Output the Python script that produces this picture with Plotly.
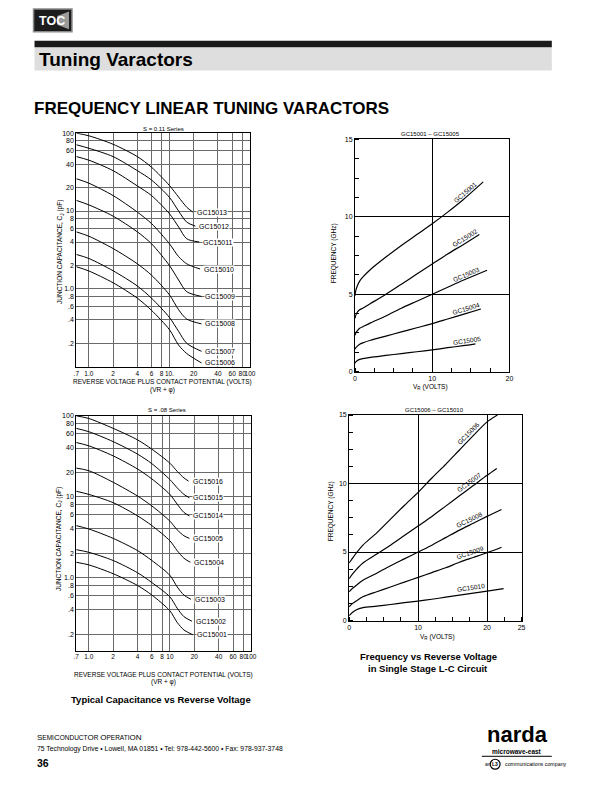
import numpy as np
import plotly.graph_objects as go

W, H = 612, 792
FONT = "Liberation Sans"

# ---------------- DATA ----------------
# Top-left: S = 0.11 series, capacitance (pF) vs reverse voltage + phi (V)
TL_NAMES = ["GC15013", "GC15012", "GC15011", "GC15010", "GC15009", "GC15008", "GC15007", "GC15006"]
TL_V = [0.7, 1, 2, 4, 6, 10, 13, 16.4]
TL_END_V = [19.5, 21, 23.5, 24, 25, 25, 25, 25]
TL_C = [
    [100, 92.5, 72, 50, 36.5, 21.3, 15.1, 11.2, 9.7],
    [71, 64, 50, 33, 25, 15, 10, 7.2, 6.4],
    [50, 45, 33, 21, 15.8, 9.25, 6.25, 4.4, 4.0],
    [26, 22.8, 15.8, 9.7, 6.9, 3.8, 2.6, 2.1, 1.8],
    [13.7, 12, 8.6, 5.4, 3.8, 2.0, 1.3, 0.92, 0.8],
    [5.4, 4.75, 3.3, 2.1, 1.5, 0.84, 0.54, 0.41, 0.355],
    [2.77, 2.46, 1.71, 1.09, 0.76, 0.43, 0.285, 0.2, 0.158],
    [1.93, 1.7, 1.2, 0.76, 0.53, 0.3, 0.19, 0.148, 0.112],
]

# Bottom-left: S = .08 series
BL_NAMES = ["GC15016", "GC15015", "GC15014", "GC15005", "GC15004", "GC15003", "GC15002", "GC15001"]
BL_V = [0.7, 1, 2, 4, 6, 10, 12.3, 14.9]
BL_END_V = [17, 17.4, 17.4, 17.4, 17.9, 18.2, 18.7, 19.2]
BL_C = [
    [100, 92.7, 70, 50.4, 38.7, 26, 20.6, 17.1, 15.6],
    [70, 63.7, 48, 33.6, 25.6, 16.3, 12.9, 10.7, 9.7],
    [46.8, 42.6, 32, 22, 16.6, 10.7, 8.1, 6.4, 5.8],
    [22.6, 21, 15.1, 10.2, 7.7, 5.0, 3.9, 3.3, 3.06],
    [11.7, 10.7, 8.45, 5.8, 4.4, 2.86, 2.16, 1.74, 1.55],
    [4.4, 4.0, 3.06, 2.16, 1.63, 1.07, 0.77, 0.61, 0.54],
    [2.22, 2.06, 1.63, 1.15, 0.87, 0.58, 0.42, 0.33, 0.29],
    [1.55, 1.44, 1.12, 0.8, 0.61, 0.39, 0.28, 0.226, 0.197],
]

LOG_TICKS_Y = [100, 80, 60, 40, 20, 10, 8, 6, 4, 2, 1, 0.8, 0.6, 0.4, 0.2]
LOG_TICKTEXT_Y = ["100", "80", "60", "40", "20", "10", "8", "6", "4", "2", "1.0", ".8", ".6", ".4", ".2"]
LOG_TICKS_X = [0.7, 1, 2, 4, 6, 8, 10, 20, 40, 60, 80, 100]
TL_TICKTEXT_X = [".7", "1.0", "2", "4", "6", "8", "10.", "20", "40", "60", "80", "100"]
BL_TICKTEXT_X = [".7", "1.0", "2", "4", "6", "8", "10", "20", "40", "60", "80", "100"]

# Top-right: frequency (GHz) vs VR (V), GC15001-GC15005
TR_NAMES = ["GC15001", "GC15002", "GC15003", "GC15004", "GC15005"]
TR_V = [0, 0.1, 0.3, 0.6, 1, 2, 4, 6, 8, 10, 12, 14]
TR_END_V = [16.6, 16.1, 17.1, 16.3, 15.6]
TR_F = [
    [4.9, 5.25, 5.55, 5.85, 6.1, 6.6, 7.4, 8.15, 8.85, 9.55, 10.3, 11.1, 12.25],
    [3.45, 3.65, 3.85, 4.0, 4.1, 4.4, 5.0, 5.65, 6.3, 6.95, 7.6, 8.2, 8.85],
    [2.35, 2.5, 2.65, 2.8, 2.9, 3.15, 3.6, 4.1, 4.55, 5.0, 5.45, 5.9, 6.55],
    [1.45, 1.55, 1.65, 1.77, 1.86, 2.03, 2.3, 2.57, 2.84, 3.1, 3.4, 3.7, 4.05],
    [0.55, 0.63, 0.72, 0.8, 0.85, 0.93, 1.05, 1.17, 1.29, 1.41, 1.55, 1.68, 1.8],
]

# Bottom-right: GC15006-GC15010
BR_NAMES = ["GC15006", "GC15007", "GC15008", "GC15009", "GC15010"]
BR_V = [0, 0.5, 1, 2, 4, 6, 8, 10, 12, 14, 16, 18, 20]
BR_END_V = [21.5, 21.4, 22.1, 22.1, 22.4]
BR_F = [
    [4.2, 4.55, 4.9, 5.5, 6.4, 7.4, 8.4, 9.35, 10.4, 11.4, 12.45, 13.5, 14.5, 15.0],
    [3.05, 3.4, 3.7, 4.2, 4.85, 5.5, 6.2, 6.9, 7.6, 8.35, 9.1, 9.85, 10.6, 11.1],
    [2.1, 2.35, 2.55, 2.93, 3.45, 4.0, 4.5, 5.0, 5.5, 6.05, 6.6, 7.1, 7.6, 8.1],
    [1.0, 1.25, 1.42, 1.73, 2.1, 2.45, 2.8, 3.15, 3.5, 3.85, 4.25, 4.6, 4.95, 5.35],
    [0.35, 0.6, 0.77, 0.94, 1.05, 1.17, 1.3, 1.42, 1.55, 1.7, 1.85, 2.0, 2.15, 2.33],
]

# ---------------- LAYOUT HELPERS ----------------
def PX(x):
    return x / W

def PY(y):
    return 1 - y / H

# plot boxes in page pixels: (left, right, top, bottom)
BOX_TL = (74.4, 250.7, 130.3, 366.0)
BOX_BL = (74.3, 251.7, 415.5, 652.3)
BOX_TR = (357.3, 514.0, 136.5, 371.0)
BOX_BR = (351.3, 526.3, 414.7, 622.0)

def dom(box):
    l, r, t, b = box
    return [PX(l), PX(r)], [PY(b), PY(t)]

fig = go.Figure()

def add_curves(names, vs, ends, vals, xa, ya, width):
    for name, end, ys in zip(names, ends, vals):
        xs = list(vs) + [end]
        fig.add_trace(go.Scatter(x=xs, y=ys, mode="lines", name=name,
                                 line=dict(color="black", width=width, shape="spline", smoothing=0.8),
                                 xaxis=xa, yaxis=ya, hoverinfo="skip"))

add_curves(TL_NAMES, TL_V, TL_END_V, TL_C, "x", "y", 1.0)
add_curves(BL_NAMES, BL_V, BL_END_V, BL_C, "x2", "y2", 1.0)
add_curves(TR_NAMES, TR_V, TR_END_V, TR_F, "x3", "y3", 1.2)
add_curves(BR_NAMES, BR_V, BR_END_V, BR_F, "x4", "y4", 1.2)

tickfont = dict(family=FONT, size=7, color="black")
xtickfont = dict(family=FONT, size=6.5, color="black")

def log_x(box, ticktext, anchor):
    d, _ = dom(box)
    return dict(domain=d, type="log", range=[np.log10(0.7), 2], tickvals=LOG_TICKS_X,
                ticktext=ticktext, showgrid=True, gridcolor="#6a6a6a", gridwidth=0.9,
                showline=True, linecolor="black", linewidth=1, mirror=True, ticks="",
                tickangle=0, tickfont=xtickfont, zeroline=False, anchor=anchor, fixedrange=True)

def log_y(box, rng, anchor):
    _, d = dom(box)
    return dict(domain=d, type="log", range=rng, tickvals=LOG_TICKS_Y,
                ticktext=LOG_TICKTEXT_Y, showgrid=True, gridcolor="#6a6a6a", gridwidth=0.9,
                showline=True, linecolor="black", linewidth=1, mirror=True, ticks="",
                tickangle=0, tickfont=tickfont, zeroline=False, anchor=anchor, fixedrange=True)

def lin_ax(box, which, rng, tickvals, minor_dtick, anchor):
    dx, dy = dom(box)
    return dict(domain=dx if which == "x" else dy, range=rng, tickvals=tickvals,
                showgrid=True, gridcolor="black", gridwidth=0.8,
                showline=True, linecolor="black", linewidth=1, mirror=True, ticks="",
                minor=dict(dtick=minor_dtick, tick0=0, ticks="inside", ticklen=4,
                           tickcolor="black", tickwidth=1, showgrid=False),
                tickangle=0, tickfont=tickfont, zeroline=False, anchor=anchor, fixedrange=True)

fig.update_layout(
    xaxis=log_x(BOX_TL, TL_TICKTEXT_X, "y"),
    yaxis=log_y(BOX_TL, [-1, 2], "x"),
    xaxis2=log_x(BOX_BL, BL_TICKTEXT_X, "y2"),
    yaxis2=log_y(BOX_BL, [-0.9, 2], "x2"),
    xaxis3=lin_ax(BOX_TR, "x", [0, 20], [0, 10, 20], 2.5, "y3"),
    yaxis3=lin_ax(BOX_TR, "y", [0, 15], [0, 5, 10, 15], 1.25, "x3"),
    xaxis4=lin_ax(BOX_BR, "x", [0, 25], [0, 10, 20, 25], 2.5, "y4"),
    yaxis4=lin_ax(BOX_BR, "y", [0, 15], [0, 5, 10, 15], 1.25, "x4"),
)

annotations = []
shapes = []

def txt(text, x, y, size, bold=False, xanchor="center", angle=0, color="black"):
    if bold:
        text = "<b>" + text + "</b>"
    annotations.append(dict(text=text, x=PX(x), y=PY(y), xref="paper", yref="paper",
                            xanchor=xanchor, yanchor="middle", showarrow=False, textangle=angle,
                            font=dict(family=FONT, size=size, color=color)))

# curve labels for the log charts, at the end of each curve
def end_labels(names, ends, vals, xref, yref):
    for name, end, ys in zip(names, ends, vals):
        annotations.append(dict(text=name, x=np.log10(end), y=np.log10(ys[-1]), xref=xref, yref=yref,
                                xanchor="left", yanchor="middle", xshift=3, showarrow=False,
                                bgcolor="white", borderpad=0,
                                font=dict(family=FONT, size=7, color="black")))

end_labels(TL_NAMES, TL_END_V, TL_C, "x", "y")
end_labels(BL_NAMES, BL_END_V, BL_C, "x2", "y2")

# rotated labels along the lines of the linear charts
def line_labels(names, vs, ends, vals, xref, yref, box, xr, yr, lx, off):
    l, r, t, b = box
    pxv = (r - l) / (xr[1] - xr[0])
    pxf = (b - t) / (yr[1] - yr[0])
    for name, end, ys in zip(names, ends, vals):
        xs = list(vs) + [end]
        ly = float(np.interp(lx, xs, ys))
        slope = float(np.interp(lx + 1, xs, ys) - np.interp(lx - 1, xs, ys)) / 2
        th = np.arctan(slope * pxf / pxv)
        annotations.append(dict(text=name, x=lx, y=ly, xref=xref, yref=yref,
                                xanchor="center", yanchor="middle", showarrow=False,
                                textangle=-np.degrees(th),
                                xshift=-off * np.sin(th), yshift=off * np.cos(th),
                                font=dict(family=FONT, size=6.5, color="black")))

line_labels(TR_NAMES, TR_V, TR_END_V, TR_F, "x3", "y3", BOX_TR, [0, 20], [0, 15], 14.6, 4.5)
line_labels(BR_NAMES, BR_V, BR_END_V, BR_F, "x4", "y4", BOX_BR, [0, 25], [0, 15], 17.8, 5.5)

# axis titles and chart titles
txt("S = 0.11 Series", 162.5, 126, 6)
txt("JUNCTION CAPACITANCE, C<sub>J</sub> (pF)", 58, 250, 6.5, angle=-90)
txt("REVERSE VOLTAGE PLUS CONTACT POTENTIAL (VOLTS)", 162, 381.5, 6.5)
txt("(VR + φ)", 162, 389.5, 6.5)

txt("S = .08 Series", 166, 410, 6)
txt("JUNCTION CAPACITANCE, C<sub>J</sub> (pF)", 56.7, 540, 6.5, angle=-90)
txt("REVERSE VOLTAGE PLUS CONTACT POTENTIAL (VOLTS)", 163, 676.7, 6.5)
txt("(VR + φ)", 163, 684.3, 6.5)
txt("Typical Capacitance vs Reverse Voltage", 160, 701.7, 9.5, bold=True)

txt("GC15001 – GC15005", 434, 131, 6)
txt("FREQUENCY (GHz)", 336.7, 251.7, 6.5, angle=-90)
txt("V<sub>R</sub> (VOLTS)", 434, 386, 6.5)

txt("GC15006 – GC15010", 438, 410, 6)
txt("FREQUENCY (GHz)", 333, 511.7, 6.5, angle=-90)
txt("V<sub>R</sub> (VOLTS)", 440.7, 638.3, 6.5)
txt("Frequency vs Reverse Voltage", 431.7, 658.3, 9.5, bold=True)
txt("in Single Stage L-C Circuit", 431.7, 670.7, 9.5, bold=True)

# header
def rect(x0, y0, x1, y1, fill, line=None, lw=0):
    shapes.append(dict(type="rect", xref="paper", yref="paper", x0=PX(x0), x1=PX(x1),
                       y0=PY(y1), y1=PY(y0), fillcolor=fill,
                       line=dict(color=line or fill, width=lw), layer="below"))

rect(31, 5, 70, 28, "#1c1c1c", "#8a8a8a", 1.5)
shapes.append(dict(type="path", xref="paper", yref="paper",
                   path="M %f %f L %f %f L %f %f L %f %f Z" % (PX(55), PY(12), PX(67), PY(7.5), PX(67), PY(25.5), PX(55), PY(21)),
                   fillcolor="#9a9a9a", line=dict(width=0), layer="below"))
txt("TOC", 49.5, 16.8, 12.5, bold=True, color="white")
rect(32, 37, 557, 44, "#1a1a1a")
rect(32, 44, 557, 67, "#dedede")
txt("Tuning Varactors", 35, 55.5, 19, bold=True, xanchor="left")
txt("FREQUENCY LINEAR TUNING VARACTORS", 29, 105, 17, bold=True, xanchor="left")

# footer
big = "<span style='font-size:8px'>%s</span>"
txt(big % "S" + "EMI" + big % "C" + "ONDUCT" + big % "O" + "R " + big % "O" + "PERATI" + big % "ON",
    32, 740.5, 6.5, bold=False, xanchor="left")
txt("75 Technology Drive • Lowell, MA 01851 • Tel: 978-442-5600 • Fax: 978-937-3748", 32, 752, 6.8, xanchor="left")
txt("36", 32, 766, 10.5, bold=True, xanchor="left")

txt("narda", 522, 737.5, 22, bold=True)
txt("microwave-east", 522, 754.5, 6.5, bold=True)
shapes.append(dict(type="line", xref="paper", yref="paper", x0=PX(486), x1=PX(557), y0=PY(759), y1=PY(759),
                   line=dict(color="black", width=1)))
txt("an", 487, 767, 5, xanchor="left")
shapes.append(dict(type="circle", xref="paper", yref="paper", x0=PX(494.5), x1=PX(504.5), y0=PY(772), y1=PY(762),
                   fillcolor="white", line=dict(color="black", width=1.2)))
txt("L3", 499.5, 767, 5, bold=True)
txt("communications company", 507, 767, 5.3, xanchor="left")

fig.update_layout(width=W, height=H, margin=dict(l=0, r=0, t=0, b=0),
                  paper_bgcolor="white", plot_bgcolor="white", showlegend=False,
                  annotations=annotations, shapes=shapes,
                  font=dict(family=FONT, color="black"))

fig.write_html("out.html", config={"displayModeBar": False},
               post_script="document.body.style.margin='0px';document.documentElement.style.overflow='hidden';document.body.style.overflow='hidden';")
